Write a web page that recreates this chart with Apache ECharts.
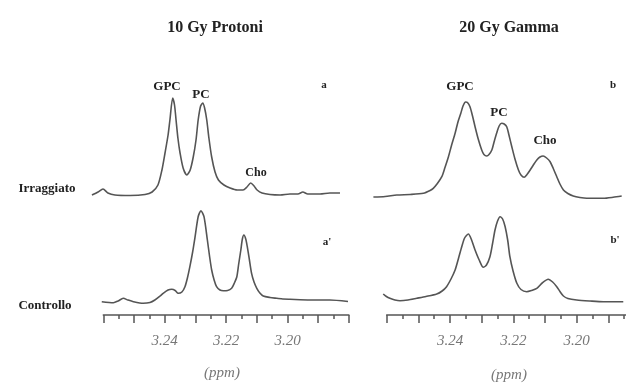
<!DOCTYPE html>
<html>
<head>
<meta charset="utf-8">
<script src="https://cdn.jsdelivr.net/npm/echarts@6/dist/echarts.min.js"></script>
<style>
html,body{margin:0;padding:0;background:#fff;}
#chart{width:626px;height:383px;}
</style>
</head>
<body>
<div id="chart"></div>
<script>
// ---- data: [ppm, intensity] ----
var irrProtoni = [
 [3.2637,5],[3.2617,8],[3.2601,11],[3.2585,7],[3.2562,5],[3.2513,4.5],[3.2464,5.5],[3.2441,8],
 [3.2422,15],[3.2409,30],[3.2399,47],[3.2389,65],[3.2383,80],[3.2374,102],[3.2368,95],[3.2363,80],
 [3.2357,62],[3.2350,47],[3.2340,32],[3.2328,25],[3.2317,30],[3.2307,43],[3.2298,60],[3.2291,80],
 [3.2283,94],[3.2276,97],[3.2270,92],[3.2263,80],[3.2256,62],[3.2247,43],[3.2236,28],[3.2225,20],
 [3.2207,15],[3.2187,12],[3.2164,10],[3.2145,10],[3.2132,13],[3.2120,17],[3.2109,14],[3.2099,10],
 [3.2083,7],[3.2057,5.5],[3.2024,5],[3.1992,6],[3.1966,6],[3.1950,8],[3.1934,6],[3.1894,6],
 [3.1862,7],[3.1829,7]
];
var ctrlProtoni = [
 [3.2605,8.3],[3.2567,7.3],[3.2552,9],[3.2535,11.7],[3.2520,10],[3.2502,8.3],[3.2470,6.7],[3.2448,7.5],
 [3.2432,10],[3.2415,14],[3.2405,16.7],[3.2389,20],[3.2377,20.7],[3.2366,19.5],[3.2356,16.7],[3.2344,18],
 [3.2334,23.3],[3.2326,32],[3.2318,43.3],[3.2309,58],[3.2301,73.3],[3.2291,93.3],[3.2282,99.3],[3.2272,93.3],
 [3.2261,70],[3.2254,54],[3.2247,40],[3.2239,30],[3.2231,23.3],[3.2220,20],[3.2209,19.3],[3.2195,19.5],
 [3.2182,21.7],[3.2173,27],[3.2165,33.3],[3.2159,46],[3.2152,60],[3.2147,71],[3.2142,75],[3.2136,71],
 [3.2131,63.3],[3.2124,50],[3.2117,36.7],[3.2109,28],[3.2100,21.7],[3.2090,17],[3.2079,14],[3.2057,12.5],
 [3.2035,11.7],[3.2015,11],[3.1992,10.7],[3.1927,10],[3.1862,10],[3.1803,8.5]
];
var irrGamma = [
 [3.2642,3],[3.2605,3.5],[3.2568,5],[3.2526,5.5],[3.2484,6.7],[3.2463,9.5],[3.2453,11.7],[3.2440,16.5],
 [3.2426,23.3],[3.2416,32.5],[3.2405,43.3],[3.2395,55],[3.2384,66.7],[3.2375,78],[3.2366,86.7],[3.2359,94],
 [3.2351,98],[3.2345,97.5],[3.2337,93.3],[3.2329,84],[3.2321,73.3],[3.2311,61],[3.2300,50],[3.2293,45.5],
 [3.2284,44],[3.2277,45.5],[3.2268,50],[3.2261,58],[3.2253,66.7],[3.2245,74],[3.2237,76.7],[3.2229,76],
 [3.2221,73.3],[3.2214,65],[3.2205,53.3],[3.2195,41],[3.2184,30],[3.2176,25],[3.2166,22.7],[3.2157,25.5],
 [3.2147,30],[3.2137,35],[3.2126,40],[3.2116,43],[3.2106,44],[3.2095,42],[3.2084,38.3],[3.2074,31.5],
 [3.2063,23.3],[3.2053,16],[3.2042,10],[3.2028,6.5],[3.2011,4],[3.1990,2.5],[3.1968,1.7],[3.1916,1.7],
 [3.1885,2.7],[3.1858,4]
];
var ctrlGamma = [
 [3.2611,16],[3.2601,13.5],[3.2590,11.7],[3.2574,10],[3.2558,9.3],[3.2533,10],[3.2505,11.7],[3.2476,13.5],
 [3.2442,16],[3.2425,19],[3.2411,23.3],[3.2397,31],[3.2384,40],[3.2373,52],[3.2363,63.3],[3.2354,72],
 [3.2342,76],[3.2332,70],[3.2321,60],[3.2308,50],[3.2295,42.7],[3.2285,45],[3.2274,53.3],[3.2266,66],
 [3.2258,80],[3.2250,89],[3.2242,93.3],[3.2234,91],[3.2226,83.3],[3.2218,70],[3.2211,53.3],[3.2201,39],
 [3.2189,26.7],[3.2176,20.5],[3.2158,18.3],[3.2143,19.5],[3.2126,21.7],[3.2109,27],[3.2090,30.7],[3.2076,28],
 [3.2063,23.3],[3.2053,18.5],[3.2042,14],[3.2028,11.5],[3.2000,10],[3.1958,9],[3.1916,8.3],[3.1853,8.3]
];
var tickLabels = ['3.24', '3.22', '3.20'];
var panelTitles = ['10 Gy Protoni', '20 Gy Gamma'];
var rowLabels = ['Irraggiato', 'Controllo'];
var peakLabels = ['GPC', 'PC', 'Cho'];
var panelLetters = ['a', "a'", 'b', "b'"];
var axisName = '(ppm)';

// ---- layout ----
var PXL = 3070, PXR = 3167; // px per ppm
var LINE = '#555';
var chart = echarts.init(document.getElementById('chart'), null, {renderer: 'canvas'});

function curveGrid(left, top, pxPer) {
  return {left: left, top: top, width: (3.265 - 3.18) * pxPer, height: 110, containLabel: false, outerBoundsMode: 'none'};
}
var grids = [
  curveGrid(103.3 - 0.005 * PXL, 90, PXL),
  curveGrid(103.3 - 0.005 * PXL, 200, PXL),
  {left: 103.3, top: 250, width: 0.08 * PXL, height: 65, outerBoundsMode: 'none'},
  curveGrid(386.7 - 0.005 * PXR, 90, PXR),
  curveGrid(386.7 - 0.005 * PXR, 200, PXR),
  {left: 386.7, top: 250, width: 0.08 * PXR, height: 65, outerBoundsMode: 'none'}
];
function hiddenX(i) {
  return {type: 'value', gridIndex: i, min: 3.18, max: 3.265, inverse: true, show: false};
}
function shownX(i) {
  return {
    type: 'value', gridIndex: i, min: 3.18, max: 3.26, interval: 0.01, inverse: true,
    axisLine: {show: true, lineStyle: {color: LINE, width: 1.5}},
    axisTick: {show: true, length: 8, lineStyle: {color: LINE, width: 1.5}},
    minorTick: {show: true, splitNumber: 2, length: 4, lineStyle: {color: LINE, width: 1.5}},
    splitLine: {show: false},
    axisLabel: {
      margin: 19, color: '#777', fontFamily: 'Liberation Serif', fontStyle: 'italic', fontSize: 15,
      formatter: function (v) {
        for (var k = 0; k < tickLabels.length; k++) {
          if (Math.abs(parseFloat(tickLabels[k]) - v) < 1e-6) return tickLabels[k];
        }
        return '';
      }
    }
  };
}
var xAxes = [hiddenX(0), hiddenX(1), shownX(2), hiddenX(3), hiddenX(4), shownX(5)];
var yAxes = [0,1,2,3,4,5].map(function (i) {
  return {type: 'value', gridIndex: i, min: 0, max: (i === 2 || i === 5) ? 1 : 110, show: false};
});
function ser(data, idx) {
  return {type: 'line', xAxisIndex: idx, yAxisIndex: idx, data: data, showSymbol: false, smooth: 0.25,
    lineStyle: {color: LINE, width: 1.6}, silent: true};
}
function txt(s, x, y, size, opts) {
  opts = opts || {};
  return {type: 'text', x: x, y: y, silent: true, style: {
    text: s, fill: opts.fill || '#222', fontFamily: 'Liberation Serif',
    fontWeight: opts.weight || 'bold', fontStyle: opts.style || 'normal', fontSize: size,
    align: 'center', verticalAlign: 'middle'}};
}
var graphics = [
  txt(panelTitles[0], 215, 28, 16),
  txt(panelTitles[1], 509, 28, 16),
  txt(rowLabels[0], 47, 189, 13),
  txt(rowLabels[1], 45, 306, 13),
  txt(peakLabels[0], 167, 87, 13),
  txt(peakLabels[1], 201, 95, 13),
  txt(peakLabels[2], 256, 173, 12),
  txt(peakLabels[0], 460, 87, 13),
  txt(peakLabels[1], 499, 113, 13),
  txt(peakLabels[2], 545, 141, 13),
  txt(panelLetters[0], 324, 85, 11),
  txt(panelLetters[1], 327, 242, 11),
  txt(panelLetters[2], 613, 85, 11),
  txt(panelLetters[3], 615, 240, 11),
  txt(axisName, 222, 373, 15, {weight: 'normal', style: 'italic', fill: '#777'}),
  txt(axisName, 509, 375, 15, {weight: 'normal', style: 'italic', fill: '#777'})
];
chart.setOption({
  animation: false,
  backgroundColor: '#fff',
  grid: grids,
  xAxis: xAxes,
  yAxis: yAxes,
  series: [ser(irrProtoni, 0), ser(ctrlProtoni, 1), ser(irrGamma, 3), ser(ctrlGamma, 4)],
  graphic: graphics
});
</script>
</body>
</html>
